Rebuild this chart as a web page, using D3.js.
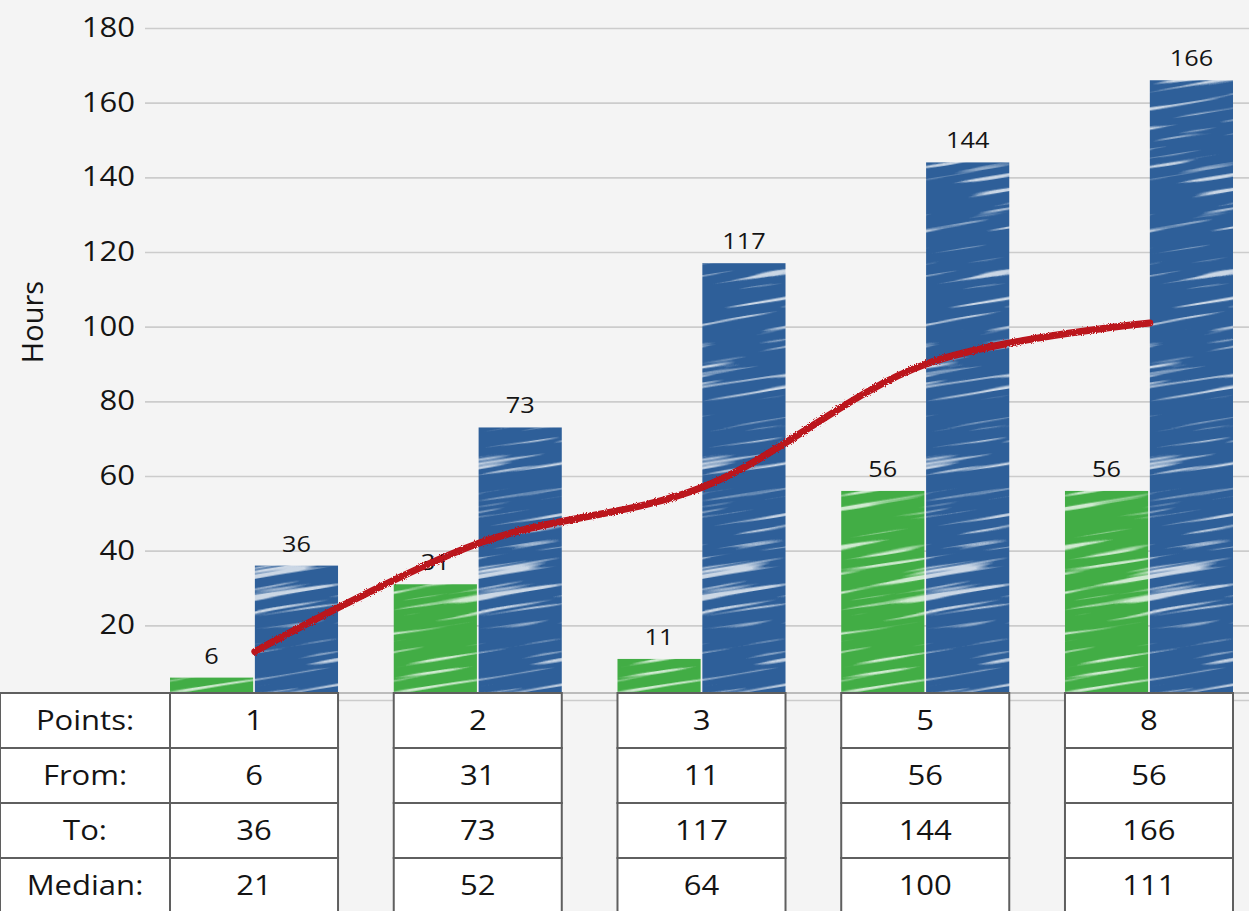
<!DOCTYPE html>
<html>
<head>
<meta charset="utf-8">
<script src="https://cdn.jsdelivr.net/npm/d3@7"></script>
<style>
  html, body { margin: 0; padding: 0; background: #f4f4f4; }
  svg { display: block; font-family: "Open Sans", Lato, sans-serif; }
</style>
</head>
<body>
<svg id="chart" width="1249" height="911"></svg>
<script>
// ---- data ----
const points = [1, 2, 3, 5, 8];
const fromHours = [6, 31, 11, 56, 56];
const toHours = [36, 73, 117, 144, 166];
const medianHours = [21, 52, 64, 100, 111];
const trendHours = [13, 42, 57, 90, 101];
const yTicks = [0, 20, 40, 60, 80, 100, 120, 140, 160, 180];
const rowLabels = ["Points:", "From:", "To:", "Median:"];

// ---- layout ----
const W = 1249, H = 911;
const SX = 1.15; // horizontal text stretch seen in the reference
const svg = d3.select("#chart");
const defs = svg.append("defs");

const y = d3.scaleLinear().domain([0, 180]).range([700, 28]);
const x = d3.scaleBand().domain(d3.range(points.length)).range([170, 1233])
  .paddingInner(0.249).paddingOuter(0);
const sub = d3.scaleBand().domain(["from", "to"]).range([0, x.bandwidth()]).paddingInner(0.02);

// streak texture
const T = 1600;
const f = defs.append("filter").attr("id", "streaks").attr("filterUnits", "userSpaceOnUse")
  .attr("x", 0).attr("y", 0).attr("width", T).attr("height", T);
f.append("feTurbulence").attr("type", "fractalNoise").attr("baseFrequency", "0.008 0.16")
  .attr("numOctaves", 2).attr("seed", 11).attr("result", "noise");
f.append("feColorMatrix").attr("in", "noise").attr("type", "matrix")
  .attr("values", "0 0 0 0 1  0 0 0 0 1  0 0 0 0 1  8 0 0 0 -4.9").attr("result", "white");
f.append("feComposite").attr("in", "white").attr("in2", "SourceGraphic").attr("operator", "in");

function makePattern(id, color) {
  const p = defs.append("pattern").attr("id", id).attr("patternUnits", "userSpaceOnUse")
    .attr("x", -300).attr("y", -300)
    .attr("width", T).attr("height", T).attr("patternTransform", "rotate(-9)");
  p.append("rect").attr("width", T).attr("height", T).attr("fill", color);
  p.append("rect").attr("width", T).attr("height", T).attr("fill", "#e8eef8")
    .attr("opacity", 0.75).attr("filter", "url(#streaks)");
}
makePattern("blueFill", "#2e5f99");
makePattern("greenFill", "#42ad45");

// rough line filter
const rf = defs.append("filter").attr("id", "rough");
rf.append("feTurbulence").attr("type", "fractalNoise").attr("baseFrequency", 0.9).attr("numOctaves", 1).attr("result", "n");
rf.append("feDisplacementMap").attr("in", "SourceGraphic").attr("in2", "n").attr("scale", 3.5);

// background
svg.append("rect").attr("width", W).attr("height", H).attr("fill", "#f4f4f4");

// y axis + grid
const yAxis = d3.axisLeft(y).tickValues(yTicks).tickSize(-(W - 145)).tickPadding(10)
  .tickFormat(d => d === 0 ? "" : d);
const gy = svg.append("g").attr("transform", "translate(145,0)").call(yAxis);
gy.select(".domain").remove();
gy.selectAll(".tick line").attr("stroke", "#cccccc").attr("stroke-width", 1.6);
gy.selectAll(".tick text").attr("fill", "#141414").attr("x", 0)
  .attr("transform", `translate(-10,0) scale(${SX},1)`)
  .style("font-size", "27px").style("font-family", "'Open Sans', sans-serif");

svg.append("text").attr("transform", "translate(43,322) rotate(-90)")
  .attr("text-anchor", "middle").attr("fill", "#141414").style("font-size", "29px").text("Hours");

// bars
const groups = svg.append("g").selectAll("g").data(points).join("g")
  .attr("transform", (d, i) => `translate(${x(i)},0)`);
groups.append("rect").attr("x", sub("from")).attr("width", sub.bandwidth())
  .attr("y", (d, i) => y(fromHours[i])).attr("height", (d, i) => y(0) - y(fromHours[i]))
  .attr("fill", "url(#greenFill)");
groups.append("rect").attr("x", sub("to")).attr("width", sub.bandwidth())
  .attr("y", (d, i) => y(toHours[i])).attr("height", (d, i) => y(0) - y(toHours[i]))
  .attr("fill", "url(#blueFill)");

// value labels
function stretchedText(sel, tx, ty, size) {
  return sel.append("text")
    .attr("transform", (d, i) => `translate(${tx(d, i)},${ty(d, i)}) scale(${SX},1)`)
    .attr("text-anchor", "middle").attr("fill", "#141414").style("font-size", size);
}
stretchedText(groups, () => sub("from") + sub.bandwidth() / 2, (d, i) => y(fromHours[i]) - 14, "22px")
  .text((d, i) => fromHours[i]);
stretchedText(groups, () => sub("to") + sub.bandwidth() / 2, (d, i) => y(toHours[i]) - 14, "22px")
  .text((d, i) => toHours[i]);

// trend line
const line = d3.line().x((d, i) => x(i) + sub("to")).y(d => y(d)).curve(d3.curveCatmullRom.alpha(0.5));
svg.append("path").datum(trendHours).attr("d", line).attr("fill", "none")
  .attr("stroke", "#bb121b").attr("stroke-width", 7).attr("stroke-linecap", "round")
  .attr("filter", "url(#rough)");

// table
const rowTop = 693, rowH = 55;
const rows = [points, fromHours, toHours, medianHours];
const tbl = svg.append("g");
tbl.append("line").attr("x1", 0).attr("x2", W).attr("y1", rowTop).attr("y2", rowTop)
  .attr("stroke", "#aaa").attr("stroke-width", 1.5);
rowLabels.forEach((lab, r) => {
  const yy = rowTop + r * rowH;
  tbl.append("rect").attr("x", 0).attr("y", yy).attr("width", 170).attr("height", rowH)
    .attr("fill", "#fff").attr("stroke", "#5f5f5f").attr("stroke-width", 2);
  tbl.append("text").attr("transform", `translate(85,${yy + rowH / 2}) scale(${SX},1)`).attr("dy", "0.36em")
    .attr("text-anchor", "middle").attr("fill", "#141414").style("font-size", "27px").text(lab);
  rows[r].forEach((v, i) => {
    tbl.append("rect").attr("x", x(i)).attr("y", yy).attr("width", x.bandwidth()).attr("height", rowH)
      .attr("fill", "#fff").attr("stroke", "#5f5f5f").attr("stroke-width", 2);
    tbl.append("text").attr("transform", `translate(${x(i) + x.bandwidth() / 2},${yy + rowH / 2}) scale(${SX},1)`)
      .attr("dy", "0.36em")
      .attr("text-anchor", "middle").attr("fill", "#141414").style("font-size", "27px").text(v);
  });
});
</script>
</body>
</html>
